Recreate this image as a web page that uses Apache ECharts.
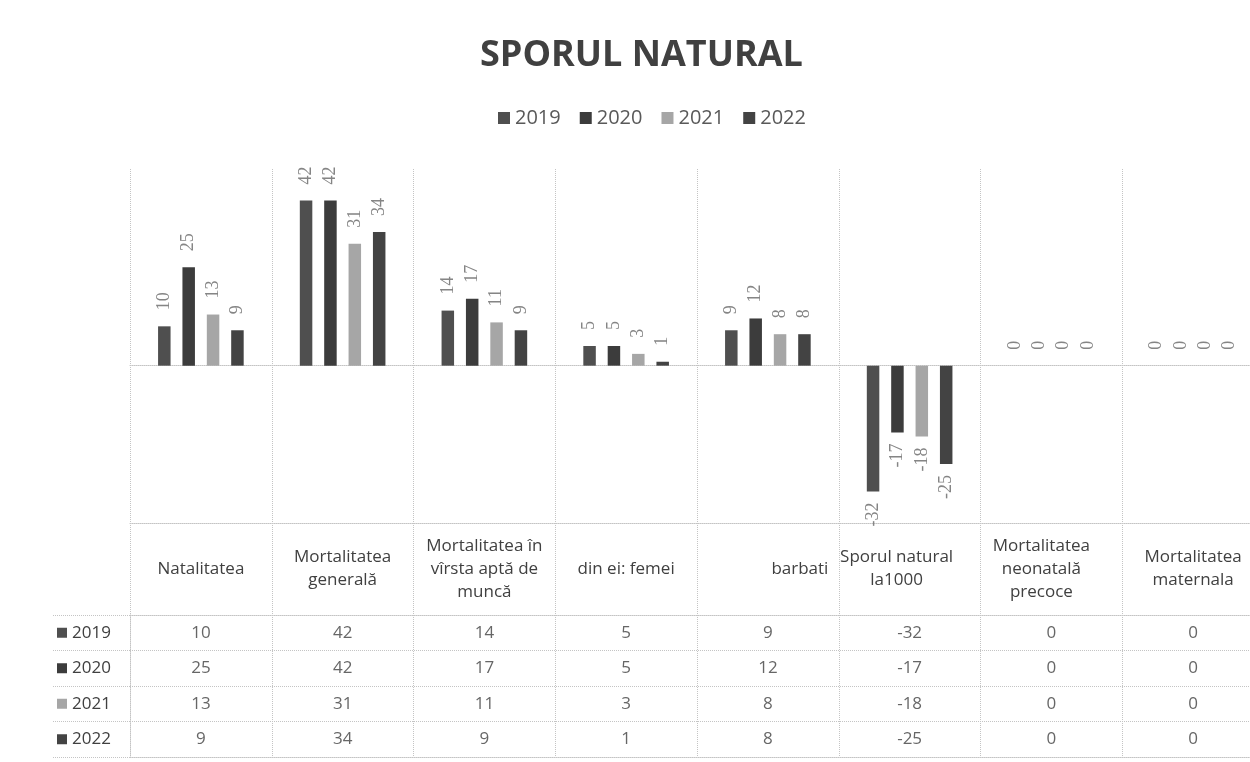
<!DOCTYPE html>
<html>
<head>
<meta charset="utf-8">
<title>Sporul natural</title>
<script src="https://cdn.jsdelivr.net/npm/echarts@6/dist/echarts.min.js"></script>
<style>
    html, body { margin: 0; padding: 0; background: #fff; }
    #chart { width: 1250px; height: 762px; }
</style>
</head>
<body>
<div id="chart"></div>
<script>
var categories = ['Natalitatea', 'Mortalitatea\ngenerală', 'Mortalitatea în\nvîrsta aptă de\nmuncă', 'din ei: femei',
    'barbati', 'Sporul natural\nla1000', 'Mortalitatea\nneonatală\nprecoce', 'Mortalitatea\nmaternala'];
var years = ['2019', '2020', '2021', '2022'];
var v2019 = [10, 42, 14, 5, 9, -32, 0, 0];
var v2020 = [25, 42, 17, 5, 12, -17, 0, 0];
var v2021 = [13, 31, 11, 3, 8, -18, 0, 0];
var v2022 = [9, 34, 9, 1, 8, -25, 0, 0];
var valueTicks = [-40, 50];   // hidden value axis, min / max

var seriesValues = [v2019, v2020, v2021, v2022];
var colors = ['#4f4f4f', '#3c3c3c', '#a6a6a6', '#434343'];
var gridLine = { color: '#c4c4c4', width: 1, type: 'dotted' };
var textFont = '"Open Sans", "Noto Sans", sans-serif';

var headerStyle = {
    fontSize: 17, lineHeight: 23, color: '#404040', fontFamily: textFont,
    verticalAlign: 'middle', align: 'center'
};
// small per-label shifts, the way excel placed the header text
var headerShift = { 2: [0, 0, 8, 0], 4: [0, 0, 0, 64], 5: [0, 26, 22, 0], 6: [0, 20, 8, 0] };

var headerData = categories.map(function (name, i) {
    if (headerShift[i]) {
        return { value: name, textStyle: Object.assign({ padding: headerShift[i] }, headerStyle) };
    }
    return name;
});

var rowRich = { t: { fontSize: 17, color: '#404040', fontFamily: textFont, padding: [0, 0, 0, 5] } };
years.forEach(function (y, k) {
    rowRich['s' + k] = { width: 10, height: 10, backgroundColor: colors[k] };
});

var series = [];
seriesValues.forEach(function (vals, k) {
    series.push({
        name: years[k],
        type: 'bar',
        xAxisIndex: 0,
        yAxisIndex: 0,
        barWidth: 12.5,
        barGap: '95%',
        itemStyle: { color: colors[k] },
        label: {
            show: true,
            position: 'top',
            rotate: 90,
            align: 'left',
            verticalAlign: 'middle',
            distance: 16,
            fontSize: 18,
            color: '#858585',
            fontFamily: '"Liberation Serif", serif'
        },
        data: vals.map(function (v) {
            if (v < 0) {
                return { value: v, label: { position: 'bottom', align: 'right', distance: 11 } };
            }
            return v;
        })
    });
});

// data table rows under the chart
seriesValues.forEach(function (vals, k) {
    series.push({
        name: 'tabel ' + years[k],
        type: 'scatter',
        xAxisIndex: 3,
        yAxisIndex: 2,
        symbolSize: 0,
        silent: true,
        label: {
            show: true,
            position: 'inside',
            fontSize: 17,
            color: '#404040',
            fontFamily: textFont,
            formatter: function (p) { return p.value[2]; }
        },
        data: vals.map(function (v, i) { return [i, years[k], v]; })
    });
});

var option = {
    backgroundColor: '#fff',
    animation: false,
    title: {
        text: 'SPORUL NATURAL',
        left: 475,
        top: 33,
        textStyle: { fontSize: 36, fontWeight: 'bold', color: '#404040', fontFamily: textFont }
    },
    legend: {
        data: years,
        left: 493,
        top: 103,
        icon: 'rect',
        itemWidth: 12,
        itemHeight: 12,
        itemGap: 19,
        textStyle: { fontSize: 20, color: '#595959', fontFamily: textFont }
    },
    grid: [
        { left: 130, top: 169, width: 1134, height: 354, outerBoundsMode: 'none' },
        { left: 130, top: 523, width: 1134, height: 92, outerBoundsMode: 'none' },
        { left: 130, top: 615, width: 1134, height: 142, outerBoundsMode: 'none' }
    ],
    xAxis: [
        {
            type: 'category', gridIndex: 0, data: categories,
            axisLine: { show: true, onZero: true, lineStyle: gridLine },
            axisTick: { show: false },
            axisLabel: { show: false },
            splitLine: { show: true, lineStyle: gridLine }
        },
        {
            type: 'category', gridIndex: 1, data: headerData, position: 'bottom',
            axisLine: { show: true, lineStyle: gridLine },
            axisTick: { show: false },
            axisLabel: Object.assign({ inside: true, margin: 46, interval: 0 }, headerStyle),
            splitLine: { show: true, lineStyle: gridLine }
        },
        {
            type: 'category', gridIndex: 1, data: categories, position: 'top',
            axisLine: { show: true, lineStyle: gridLine },
            axisTick: { show: false },
            axisLabel: { show: false }
        },
        {
            type: 'category', gridIndex: 2, data: categories,
            axisLine: { show: true, onZero: false, lineStyle: gridLine },
            axisTick: { show: false },
            axisLabel: { show: false },
            splitLine: { show: true, lineStyle: gridLine }
        }
    ],
    yAxis: [
        { type: 'value', gridIndex: 0, min: valueTicks[0], max: valueTicks[1], show: false },
        { type: 'value', gridIndex: 1, show: false },
        {
            type: 'category', gridIndex: 2, data: years, inverse: true,
            axisLine: { show: true, lineStyle: gridLine },
            axisTick: { show: true, length: 78, lineStyle: gridLine },
            axisLabel: {
                align: 'left', margin: 73,
                formatter: function (value, index) { return '{s' + index + '| }{t|' + value + '}'; },
                rich: rowRich
            },
            splitLine: { show: true, lineStyle: gridLine }
        },
        {
            type: 'category', gridIndex: 2, data: years, inverse: true, offset: 78,
            axisLine: { show: true, lineStyle: gridLine },
            axisTick: { show: false },
            axisLabel: { show: false }
        }
    ],
    series: series
};

var myChart = echarts.init(document.getElementById('chart'));
myChart.setOption(option);
</script>
</body>
</html>
